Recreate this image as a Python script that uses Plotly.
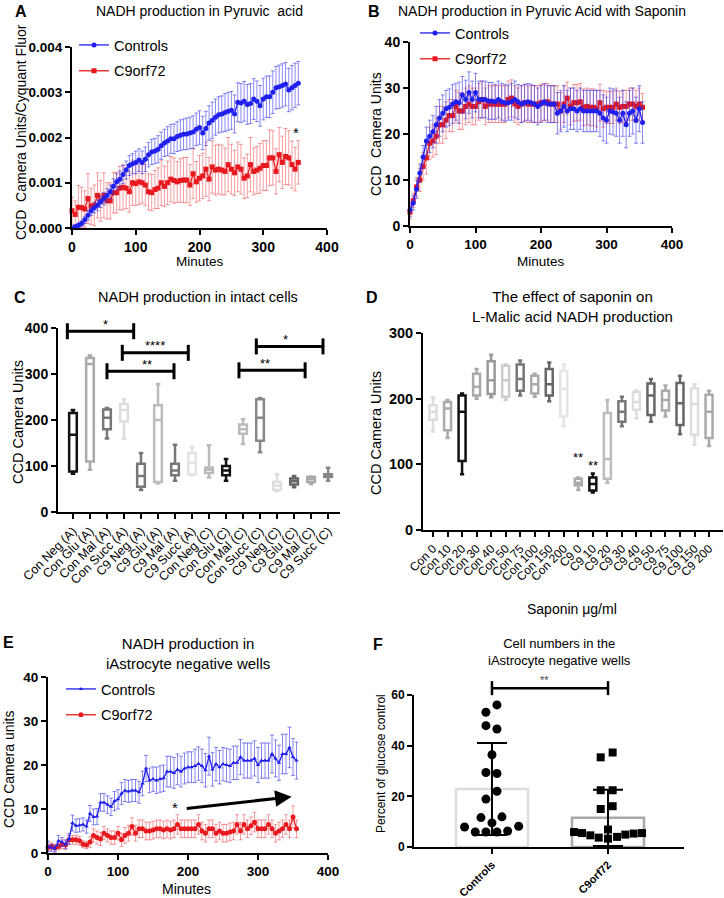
import plotly.graph_objects as go

FONT = "Liberation Sans, Arial, sans-serif"
W, H = 724, 898

# ---------------- DATA ----------------
minutes = [0, 5, 10, 15, 20, 25, 30, 35, 40, 45, 50, 55,
           60, 65, 70, 75, 80, 85, 90, 95, 100, 105, 110, 115,
           120, 125, 130, 135, 140, 145, 150, 155, 160, 165, 170, 175,
           180, 185, 190, 195, 200, 205, 210, 215, 220, 225, 230, 235,
           240, 245, 250, 255, 260, 265, 270, 275, 280, 285, 290, 295,
           300, 305, 310, 315, 320, 325, 330, 335, 340, 345, 350, 355]

# Panel A (CCD camera units / Cyquant fluor)
a_ctrl = [0.0000, 0.00003, 0.00006, 0.00010, 0.00018, 0.00028, 0.00038, 0.00045, 0.00050, 0.00058, 0.00065, 0.00072,
          0.00080, 0.00092, 0.00102, 0.00108, 0.00118, 0.00128, 0.00138, 0.00142, 0.00145, 0.00150, 0.00145, 0.00152,
          0.00162, 0.00168, 0.00170, 0.00174, 0.00182, 0.00188, 0.00192, 0.00197, 0.00197, 0.00202, 0.00205, 0.00207,
          0.00208, 0.00210, 0.00212, 0.00218, 0.00222, 0.00210, 0.00220, 0.00232, 0.00238, 0.00245, 0.00250, 0.00252,
          0.00255, 0.00258, 0.00260, 0.00252, 0.00278, 0.00276, 0.00280, 0.00273, 0.00275, 0.00285, 0.00280, 0.00270,
          0.00285, 0.00290, 0.00290, 0.00300, 0.00310, 0.00312, 0.00315, 0.00318, 0.00305, 0.00310, 0.00315, 0.00320]
a_ctrl_err = [0.00003, 0.00004, 0.00005, 0.00006, 0.00008, 0.00010, 0.00010, 0.00012, 0.00012, 0.00013, 0.00014, 0.00015,
              0.00015, 0.00017, 0.00018, 0.00018, 0.00020, 0.00020, 0.00022, 0.00022, 0.00025, 0.00025, 0.00025, 0.00027,
              0.00027, 0.00028, 0.00028, 0.00030, 0.00030, 0.00030, 0.00032, 0.00032, 0.00033, 0.00033, 0.00034, 0.00034,
              0.00035, 0.00035, 0.00036, 0.00036, 0.00037, 0.00037, 0.00038, 0.00038, 0.00040, 0.00040, 0.00040, 0.00040,
              0.00042, 0.00042, 0.00042, 0.00042, 0.00043, 0.00043, 0.00044, 0.00044, 0.00044, 0.00045, 0.00045, 0.00045,
              0.00046, 0.00046, 0.00046, 0.00047, 0.00047, 0.00048, 0.00048, 0.00048, 0.00048, 0.00049, 0.00049, 0.00048]
a_c9 = [0.00038, 0.00030, 0.00046, 0.00045, 0.00042, 0.00065, 0.00048, 0.00050, 0.00072, 0.00060, 0.00072, 0.00060,
        0.00060, 0.00078, 0.00078, 0.00088, 0.00090, 0.00088, 0.00080, 0.00100, 0.00098, 0.00102, 0.00100, 0.00095,
        0.00080, 0.00078, 0.00085, 0.00088, 0.00100, 0.00092, 0.00100, 0.00108, 0.00105, 0.00102, 0.00105, 0.00106,
        0.00106, 0.00095, 0.00120, 0.00102, 0.00110, 0.00115, 0.00130, 0.00108, 0.00135, 0.00128, 0.00130, 0.00128,
        0.00125, 0.00140, 0.00130, 0.00122, 0.00135, 0.00130, 0.00110, 0.00115, 0.00140, 0.00125, 0.00128, 0.00132,
        0.00138, 0.00138, 0.00155, 0.00155, 0.00125, 0.00162, 0.00145, 0.00158, 0.00155, 0.00140, 0.00130, 0.00145]
a_c9_err = [0.00030, 0.00030, 0.00048, 0.00045, 0.00040, 0.00055, 0.00040, 0.00045, 0.00050, 0.00045, 0.00050, 0.00040,
            0.00040, 0.00045, 0.00045, 0.00048, 0.00050, 0.00045, 0.00045, 0.00050, 0.00048, 0.00050, 0.00045, 0.00045,
            0.00040, 0.00040, 0.00042, 0.00045, 0.00050, 0.00045, 0.00048, 0.00050, 0.00050, 0.00045, 0.00048, 0.00050,
            0.00050, 0.00045, 0.00055, 0.00045, 0.00050, 0.00050, 0.00060, 0.00048, 0.00058, 0.00055, 0.00055, 0.00055,
            0.00052, 0.00060, 0.00055, 0.00050, 0.00055, 0.00055, 0.00045, 0.00048, 0.00060, 0.00052, 0.00052, 0.00055,
            0.00055, 0.00055, 0.00062, 0.00060, 0.00050, 0.00060, 0.00058, 0.00062, 0.00060, 0.00052, 0.00048, 0.00048]

# Panel B (CCD camera units, with saponin)
b_ctrl = [3.5, 5, 8, 11.5, 15, 18.5, 19.5, 20.5, 22, 23.5, 24.5, 25.5,
          25.8, 26.5, 27, 26.8, 28.5, 27.5, 29, 27.5, 29, 27.5, 27.5, 27.5,
          27.2, 27.2, 27, 27.5, 27, 26.8, 26.8, 27, 27.5, 27, 26.5, 26.8,
          27, 26.8, 26.5, 26, 26.5, 27, 26.5, 26.5, 26.5, 24.5, 25, 26,
          25, 25.5, 25.5, 25, 25.5, 25, 25, 25, 25, 25, 24.5, 23.5,
          23, 25, 24.8, 24.5, 23, 24.5, 22, 24.5, 25, 23, 25.5, 22.5]
b_ctrl_err = [1.5, 1.5, 2, 2, 2.5, 3, 3.5, 3.5, 4, 4, 4, 4,
              4, 4.2, 4, 4.5, 4, 4.2, 4.5, 4, 4.2, 4, 4, 4,
              4, 4, 3.8, 4, 4, 4, 3.8, 4, 4, 3.8, 4, 4,
              4, 4, 4, 4, 4, 4, 4, 4, 4, 4.5, 4.5, 4.5,
              4.5, 4.5, 4.5, 4.5, 4.5, 4.5, 4.5, 4.5, 4.5, 4.5, 5, 5,
              5, 5, 5, 5, 5, 5, 5, 5, 5, 5, 5, 4.5]
b_c9 = [3, 5.5, 8.5, 10, 13, 14.8, 18, 18.5, 19.5, 22, 22, 23,
        24, 24, 26, 25, 25, 26, 26.5, 26, 26, 27, 27.5, 26,
        26.5, 26.5, 26.5, 26.5, 26.5, 26.5, 27.5, 27.8, 26.5, 26, 26.5, 26.8,
        26.5, 26.5, 26.5, 26.5, 26.8, 26.8, 27, 26.5, 26.5, 26.5, 25, 26.5,
        27.8, 26, 26.8, 26.8, 27, 25.8, 26, 25.8, 25.8, 25.5, 26.8, 25.5,
        25.8, 25.8, 25.8, 26.5, 25.8, 26, 26, 26.5, 26.5, 26, 26.5, 25.8]
b_c9_err = [1.5, 1.5, 2, 2.5, 3, 3.5, 3.5, 3.5, 4, 4, 4, 4,
            3.5, 3.5, 3.5, 4, 4, 4, 4, 4, 4, 4, 4, 4,
            4, 4, 4, 4, 4, 4, 4, 4, 4, 4, 4, 4,
            4, 4, 4, 4, 4, 4, 4, 4, 4, 4, 4, 4,
            3.5, 4, 4, 4, 4, 4, 4, 4, 4, 4, 4, 4,
            3.5, 3.5, 3.5, 3.5, 3.5, 3.5, 3.5, 3.5, 3.5, 3.5, 3.5, 3]

# Panel E (iAstrocyte negative wells)
e_ctrl = [1.5, 1.2, 1.0, 2.8, 2.5, 2.0, 3.2, 6.8, 6.2, 6.3, 6.5, 6.0,
          9.0, 8.2, 8.3, 11.5, 11.5, 11.0, 10.5, 11.8, 12.2, 13.5, 14.2, 14.0,
          14.2, 14.2, 13.8, 15.8, 19.2, 16.5, 16.8, 16.5, 16.8, 17.0, 18.5, 18.5,
          18.2, 19.0, 18.5, 19.2, 19.5, 19.5, 19.8, 20.3, 19.8, 18.8, 22.0, 19.0,
          20.2, 19.5, 20.2, 20.0, 19.8, 20.5, 20.5, 21.8, 21.0, 21.0, 21.0, 21.5,
          20.0, 21.0, 21.0, 21.0, 22.5, 21.5, 20.5, 22.5, 22.5, 24.0, 21.8, 21.0]
e_ctrl_err = [1.2, 0.8, 0.8, 1.2, 1.0, 1.0, 1.2, 1.8, 1.5, 1.5, 1.5, 1.5,
              1.8, 1.8, 1.8, 2.0, 2.0, 2.0, 2.0, 2.2, 2.2, 2.5, 2.5, 2.5,
              2.5, 2.5, 2.5, 2.8, 3.0, 2.8, 2.8, 3.0, 3.0, 3.0, 3.5, 3.5,
              3.5, 3.5, 3.5, 3.5, 3.5, 3.5, 3.8, 3.8, 3.8, 3.8, 4.3, 3.8,
              3.8, 3.8, 3.8, 3.8, 3.8, 3.8, 3.8, 4.0, 4.0, 4.0, 4.0, 4.0,
              4.0, 4.0, 4.0, 4.0, 4.3, 4.2, 4.0, 4.5, 4.5, 4.6, 4.2, 4.2]
e_c9 = [1.2, 1.5, 1.2, 1.5, 2.0, 1.8, 3.0, 3.0, 3.0, 2.8, 2.0, 1.8,
        2.5, 4.0, 3.5, 3.2, 4.5, 4.0, 3.5, 3.5, 4.5, 3.0, 4.0, 4.5,
        6.0, 4.5, 5.5, 5.5, 5.0, 5.0, 5.2, 5.5, 5.5, 5.2, 5.5, 5.2,
        5.5, 6.5, 5.5, 5.5, 5.5, 5.5, 5.5, 6.5, 5.0, 4.5, 5.5, 5.5,
        4.5, 5.0, 4.5, 4.5, 4.8, 5.0, 6.5, 5.0, 6.5, 5.5, 6.2, 7.0,
        5.5, 5.5, 5.5, 6.5, 5.5, 4.5, 5.0, 5.5, 6.5, 5.5, 8.2, 5.5]
e_c9_err = [0.8, 0.8, 0.8, 0.8, 1.0, 1.0, 1.0, 1.0, 1.0, 1.0, 0.8, 0.8,
            1.2, 1.5, 1.5, 1.5, 1.5, 1.5, 1.5, 1.5, 1.5, 1.5, 1.8, 1.8,
            2.0, 1.8, 2.0, 2.0, 2.0, 2.0, 2.0, 2.0, 2.0, 2.0, 2.0, 2.0,
            2.0, 2.2, 2.0, 2.0, 2.0, 2.0, 2.0, 2.2, 2.0, 2.0, 2.0, 2.0,
            2.0, 2.0, 2.0, 2.0, 2.0, 2.0, 2.2, 2.0, 2.2, 2.0, 2.0, 2.2,
            2.0, 2.0, 2.0, 2.2, 2.0, 2.0, 2.0, 2.0, 2.2, 2.0, 2.5, 2.0]

# Panel C (box plots, intact cells)
c_labels = ["Con Neg (A)", "Con Glu (A)", "Con Mal (A)", "Con Succ (A)",
            "C9 Neg (A)", "C9 Glu (A)", "C9 Mal (A)", "C9 Succ (A)",
            "Con Neg (C)", "Con Glu (C)", "Con Mal (C)", "Con Succ (C)",
            "C9 Neg (C)", "C9 Glu (C)", "C9 Mal (C)", "C9 Succ (C)"]
c_min = [83, 92, 160, 160, 48, 62, 68, 80, 75, 68, 148, 130, 45, 54, 61, 68]
c_q1 = [88, 110, 180, 197, 55, 65, 80, 82, 85, 80, 170, 155, 48, 60, 65, 76]
c_med = [168, 322, 205, 222, 78, 200, 90, 107, 92, 90, 180, 205, 57, 67, 72, 80]
c_q3 = [215, 335, 223, 235, 105, 232, 105, 128, 97, 100, 190, 245, 65, 73, 76, 82]
c_max = [222, 340, 226, 245, 128, 278, 146, 142, 145, 115, 202, 248, 82, 78, 77, 96]
c_colors = ["#111111", "#aaaaaa", "#777777", "#dddddd", "#777777", "#bbbbbb", "#777777", "#e3e3e3",
            "#bbbbbb", "#111111", "#bbbbbb", "#888888", "#dddddd", "#666666", "#aaaaaa", "#888888"]
# significance brackets: (from category, to category, level, label)
c_sig = [(-0.33, 3.57, 393, "*"), (2.9, 6.78, 346, "****"), (2.0, 5.94, 306, "**"),
         (9.76, 13.65, 308, "**"), (10.78, 14.7, 360, "*")]

# Panel D (box plots, saponin)
d_labels = ["Con 0", "Con 10", "Con 20", "Con 30", "Con 40", "Con 50", "Con 75", "Con 100", "Con 150", "Con 200",
            "C9 0", "C9 10", "C9 20", "C9 30", "C9 40", "C9 50", "C9 75", "C9 100", "C9 150", "C9 200"]
d_min = [150, 140, 85, 200, 202, 198, 205, 203, 196, 158, 61, 57, 72, 158, 170, 165, 173, 146, 130, 128]
d_q1 = [168, 152, 105, 205, 207, 203, 212, 208, 205, 173, 68, 60, 78, 165, 183, 175, 182, 160, 145, 140]
d_med = [180, 185, 180, 218, 228, 228, 230, 222, 222, 215, 72, 70, 108, 180, 195, 205, 198, 193, 192, 180]
d_q3 = [190, 195, 205, 238, 257, 250, 252, 235, 245, 242, 78, 80, 178, 196, 210, 223, 212, 224, 216, 206]
d_max = [202, 198, 208, 245, 267, 252, 258, 238, 255, 252, 80, 86, 198, 203, 213, 230, 220, 235, 222, 212]
d_colors = ["#dddddd", "#aaaaaa", "#111111", "#aaaaaa", "#999999", "#cccccc", "#777777", "#aaaaaa", "#666666", "#e5e5e5",
            "#aaaaaa", "#111111", "#bbbbbb", "#777777", "#dddddd", "#666666", "#aaaaaa", "#666666", "#dddddd", "#aaaaaa"]
d_stars = [(10, 110, "**"), (11, 98, "**")]

# Panel F (cell numbers)
f_groups = ["Controls", "C9orf72"]
f_mean = [22.9, 11.5]
f_sd = [18.2, 11.1]
f_ctrl_pts = [56.1, 53.2, 47.9, 46.6, 36.4, 29.4, 29.0, 22.0, 18.9, 11.6, 11.9, 9.5, 7.9, 8.2, 5.9, 5.9, 5.9, 6.3]
f_c9_pts = [35.4, 37.3, 22.4, 22.4, 15.0, 16.1, 6.9, 5.9, 5.5, 4.6, 3.7, 3.3, 4.0, 4.9, 5.3, 5.5]
# horizontal scatter offsets of the points (layout only)
f_ctrl_jit = [0.043, -0.052, -0.052, 0.043, 0, -0.052, 0.043, 0.043, -0.052, -0.095, 0.086, 0, -0.236, 0.23,
              -0.144, -0.052, 0.043, 0.135]
f_c9_jit = [-0.063, 0.04, -0.063, 0.04, -0.063, 0.04, 0, -0.293, -0.224, -0.152, -0.08, 0, 0.078, 0.149, 0.221, 0.293]
f_sig_level = 62.7

# ---------------- STYLE ----------------
BLUE = "#1f1ff0"
RED = "#e8191e"
BLUE_ERR = "rgba(40,40,235,0.55)"
RED_ERR = "rgba(235,40,45,0.45)"


def px(x):
    return x / W


def py(y):
    return 1 - y / H


def dom(v, rng):
    return (v - rng[0]) / (rng[1] - rng[0])


def axis(domain, anchor, rng, size=14, **kw):
    d = dict(domain=domain, anchor=anchor, range=rng, showline=True, linecolor="black", linewidth=2,
             ticks="outside", ticklen=5, tickwidth=2, tickcolor="black", showgrid=False, zeroline=False,
             automargin=False,
             tickfont=dict(family=FONT, size=size, color="black", weight="bold"), fixedrange=True)
    d.update(kw)
    return d


fig = go.Figure()

# ---- Panel A
fig.add_trace(go.Scatter(x=minutes, y=a_c9, mode="lines+markers", name="C9orf72", xaxis="x", yaxis="y",
                         line=dict(color=RED, width=1.3), marker=dict(symbol="square", size=5, color=RED),
                         error_y=dict(type="data", array=a_c9_err, color=RED_ERR, thickness=1, width=2),
                         legend="legend", legendrank=2, legendgroup="a2", cliponaxis=False))
fig.add_trace(go.Scatter(x=minutes, y=a_ctrl, mode="lines+markers", name="Controls", xaxis="x", yaxis="y",
                         line=dict(color=BLUE, width=1.3), marker=dict(symbol="circle", size=5, color=BLUE),
                         error_y=dict(type="data", array=a_ctrl_err, color=BLUE_ERR, thickness=1, width=2),
                         legend="legend", legendrank=1, legendgroup="a1", cliponaxis=False))

# ---- Panel B
fig.add_trace(go.Scatter(x=minutes, y=b_c9, mode="lines+markers", name="C9orf72", xaxis="x2", yaxis="y2",
                         line=dict(color=RED, width=1.3), marker=dict(symbol="square", size=5, color=RED),
                         error_y=dict(type="data", array=b_c9_err, color=RED_ERR, thickness=1, width=2),
                         legend="legend2", legendrank=2, legendgroup="b2", cliponaxis=False))
fig.add_trace(go.Scatter(x=minutes, y=b_ctrl, mode="lines+markers", name="Controls", xaxis="x2", yaxis="y2",
                         line=dict(color=BLUE, width=1.3), marker=dict(symbol="circle", size=5, color=BLUE),
                         error_y=dict(type="data", array=b_ctrl_err, color=BLUE_ERR, thickness=1, width=2),
                         legend="legend2", legendrank=1, legendgroup="b1", cliponaxis=False))

# ---- Panel C boxes
for i, lab in enumerate(c_labels):
    fig.add_trace(go.Box(x=[i], q1=[c_q1[i]], median=[c_med[i]], q3=[c_q3[i]],
                         lowerfence=[c_min[i]], upperfence=[c_max[i]], name=lab,
                         xaxis="x3", yaxis="y3", width=0.45, whiskerwidth=0.6,
                         fillcolor="white", line=dict(color=c_colors[i], width=2.5),
                         showlegend=False, hoverinfo="skip"))

# ---- Panel D boxes
for i, lab in enumerate(d_labels):
    fig.add_trace(go.Box(x=[i], q1=[d_q1[i]], median=[d_med[i]], q3=[d_q3[i]],
                         lowerfence=[d_min[i]], upperfence=[d_max[i]], name=lab,
                         xaxis="x4", yaxis="y4", width=0.48, whiskerwidth=0.6,
                         fillcolor="white", line=dict(color=d_colors[i], width=2.5),
                         showlegend=False, hoverinfo="skip"))

# ---- Panel E
fig.add_trace(go.Scatter(x=minutes, y=e_c9, mode="lines+markers", name="C9orf72", xaxis="x5", yaxis="y5",
                         line=dict(color=RED, width=1.3), marker=dict(symbol="circle", size=5, color=RED),
                         error_y=dict(type="data", array=e_c9_err, color=RED_ERR, thickness=1, width=2),
                         legend="legend3", legendrank=2, legendgroup="e2", cliponaxis=False))
fig.add_trace(go.Scatter(x=minutes, y=e_ctrl, mode="lines+markers", name="Controls", xaxis="x5", yaxis="y5",
                         line=dict(color=BLUE, width=1.3), marker=dict(symbol="triangle-up", size=4, color=BLUE),
                         error_y=dict(type="data", array=e_ctrl_err, color=BLUE_ERR, thickness=1, width=2),
                         legend="legend3", legendrank=1, legendgroup="e1", cliponaxis=False))

# ---- Panel F
fig.add_trace(go.Bar(x=[0, 1], y=f_mean, xaxis="x6", yaxis="y6", width=0.62,
                     marker=dict(color="white", line=dict(color=["#dddddd", "#aaaaaa"], width=2.5)),
                     showlegend=False, hoverinfo="skip"))
fig.add_trace(go.Scatter(x=[0 + j for j in f_ctrl_jit], y=f_ctrl_pts, mode="markers", xaxis="x6", yaxis="y6",
                         marker=dict(symbol="circle", size=9, color="black"), showlegend=False, cliponaxis=False))
fig.add_trace(go.Scatter(x=[1 + j for j in f_c9_jit], y=f_c9_pts, mode="markers", xaxis="x6", yaxis="y6",
                         marker=dict(symbol="square", size=8, color="black"), showlegend=False, cliponaxis=False))
fig.add_trace(go.Scatter(x=[0, 1], y=f_mean, mode="markers", xaxis="x6", yaxis="y6",
                         marker=dict(size=1, color="rgba(0,0,0,0)"),
                         error_y=dict(type="data", array=f_sd, color="black", thickness=2, width=15),
                         showlegend=False, cliponaxis=False))

# ---------------- AXES ----------------
A_X = [0, 400]; A_Y = [0, 0.004]
B_X = [0, 400]; B_Y = [0, 40]
C_X = [-0.88, 15.7]; C_Y = [0, 400]
D_X = [-0.69, 19.96]; D_Y = [0, 300]
E_X = [0, 400]; E_Y = [0, 40]
F_X = [-0.672, 1.655]; F_Y = [0, 60]

layout = dict(
    width=W, height=H, margin=dict(l=0, r=0, t=0, b=0, autoexpand=False), plot_bgcolor="white",
    paper_bgcolor="white",
    font=dict(family=FONT, color="black"),
    xaxis=axis([px(72), px(327)], "y", A_X, size=14, dtick=100),
    yaxis=axis([py(228), py(47)], "x", A_Y, size=13.5, dtick=0.001, tickformat=".3f"),
    xaxis2=axis([px(410), px(672)], "y2", B_X, size=13.5, dtick=100),
    yaxis2=axis([py(226), py(42)], "x2", B_Y, size=14, dtick=10),
    xaxis3=axis([px(58), px(340)], "y3", C_X, tickmode="array", tickvals=list(range(len(c_labels))),
                ticktext=c_labels, tickangle=-45,
                tickfont=dict(family=FONT, size=12.5, color="black")),
    yaxis3=axis([py(512), py(328)], "x3", C_Y, size=14, dtick=100),
    xaxis4=axis([px(423), px(723)], "y4", D_X, tickmode="array", tickvals=list(range(len(d_labels))),
                ticktext=d_labels, tickangle=-45,
                tickfont=dict(family=FONT, size=12, color="black")),
    yaxis4=axis([py(530), py(333)], "x4", D_Y, size=14.5, dtick=100),
    xaxis5=axis([px(48), px(328)], "y5", E_X, size=13.5, dtick=100),
    yaxis5=axis([py(853), py(677)], "x5", E_Y, size=13.5, dtick=10),
    xaxis6=axis([px(414), px(684)], "y6", F_X, tickmode="array", tickvals=[0, 1], ticktext=f_groups,
                tickangle=-45, tickfont=dict(family=FONT, size=11, color="black", weight="bold")),
    yaxis6=axis([py(847), py(695)], "x6", F_Y, dtick=20, size=12),
    showlegend=True,
)

leg_common = dict(bgcolor="rgba(0,0,0,0)", font=dict(family=FONT, size=14.5, color="black"),
                  tracegroupgap=4, itemwidth=30, xanchor="left", yanchor="top", traceorder="grouped")
layout["legend"] = dict(x=px(74), y=py(29), **leg_common)
layout["legend2"] = dict(x=px(415), y=py(17), **leg_common)
layout["legend3"] = dict(x=px(61), y=py(673), **leg_common)

fig.update_layout(**layout)

# ---------------- SHAPES / ANNOTATIONS ----------------
shapes = []
ann = []

C_H = 512 - 328  # px height of panel C plot
for x0, x1, lv, lab in c_sig:
    fx0, fx1, fy = dom(x0, C_X), dom(x1, C_X), dom(lv, C_Y)
    cap = 8 / C_H
    shapes.append(dict(type="line", xref="x3 domain", yref="y3 domain", x0=fx0, x1=fx1, y0=fy, y1=fy,
                       line=dict(color="black", width=3)))
    for fx in (fx0, fx1):
        shapes.append(dict(type="line", xref="x3 domain", yref="y3 domain", x0=fx, x1=fx, y0=fy - cap, y1=fy + cap,
                           line=dict(color="black", width=3)))
    ann.append(dict(xref="x3 domain", yref="y3 domain", x=(fx0 + fx1) / 2, y=fy, text=lab, showarrow=False,
                    yanchor="middle", yshift=7, font=dict(family=FONT, size=13, color="black")))

for xi, lv, lab in d_stars:
    ann.append(dict(xref="x4", yref="y4", x=xi, y=lv, text=lab, showarrow=False, yanchor="middle",
                    font=dict(family=FONT, size=13, color="black")))

# F significance bracket
F_H = 847 - 695
fy = dom(f_sig_level, F_Y)
fx0, fx1 = dom(0, F_X), dom(1, F_X)
shapes.append(dict(type="line", xref="x6 domain", yref="y6 domain", x0=fx0, x1=fx1, y0=fy, y1=fy,
                   line=dict(color="black", width=2.5)))
for fx in (fx0, fx1):
    shapes.append(dict(type="line", xref="x6 domain", yref="y6 domain", x0=fx, x1=fx, y0=fy - 7 / F_H,
                       y1=fy + 7 / F_H, line=dict(color="black", width=2.5)))
ann.append(dict(xref="x6 domain", yref="y6 domain", x=(fx0 + fx1) / 2 - 0.02, y=fy, text="**", showarrow=False,
                yanchor="middle", yshift=8, font=dict(family=FONT, size=11, color="#444444")))

# A star
ann.append(dict(xref="x", yref="y", x=352, y=0.00212, text="*", showarrow=False,
                font=dict(family=FONT, size=15, color="black")))
# E arrow and star
ann.append(dict(xref="x5", yref="y5", axref="x5", ayref="y5", x=348, y=12.8, ax=196, ay=10.1, text="",
                showarrow=True, arrowhead=2, arrowsize=1.1, arrowwidth=3, arrowcolor="black"))
ann.append(dict(xref="x5", yref="y5", x=182, y=10.4, text="*", showarrow=False,
                font=dict(family=FONT, size=15, color="black")))


def txt(x, y, s, size=14, bold=False, angle=0, xanchor="center"):
    ann.append(dict(xref="paper", yref="paper", x=px(x), y=py(y), text=s, showarrow=False, xanchor=xanchor,
                    yanchor="middle", textangle=angle,
                    font=dict(family=FONT, size=size, color="black", weight="bold" if bold else "normal")))


# panel letters
txt(21, 11, "A", 16, True); txt(374, 12, "B", 16, True)
txt(20, 297, "C", 16, True); txt(372, 297, "D", 16, True)
txt(8, 642, "E", 16, True); txt(378, 644, "F", 16, True)
# titles
txt(199, 11, "NADH production in Pyruvic&nbsp; acid", 14)
txt(542, 11, "NADH production in Pyruvic Acid with Saponin", 14)
txt(198, 297, "NADH production in intact cells", 14.5)
txt(572, 307, "The effect of saponin on<br>L-Malic acid NADH production", 15)
txt(188, 653, "NADH production in<br>iAstrocyte negative wells", 15)
txt(559, 652, "Cell numbers in the<br>iAstrocyte negative wells", 13)
# axis titles
txt(21, 132, "CCD&nbsp; Camera Units/Cyquant Fluor", 14, angle=-90)
txt(200, 262, "Minutes", 13.5)
txt(376, 134, "CCD&nbsp; Camera Units", 14, angle=-90)
txt(541, 262, "Minutes", 13.5)
txt(18, 422, "CCD Camera Units", 14.5, angle=-90)
txt(376, 433, "CCD Camera Units", 14.5, angle=-90)
txt(572, 609, "Saponin μg/ml", 14)
txt(9, 770, "CCD Camera units", 14, angle=-90)
txt(187, 889, "Minutes", 14)
txt(381, 764, "Percent of glucose control", 12, angle=-90)

fig.update_layout(shapes=shapes, annotations=ann)
fig.write_html("out.html", config={"displayModeBar": False, "staticPlot": True},
               post_script="document.body.style.margin='0';document.body.style.overflow='hidden';")
